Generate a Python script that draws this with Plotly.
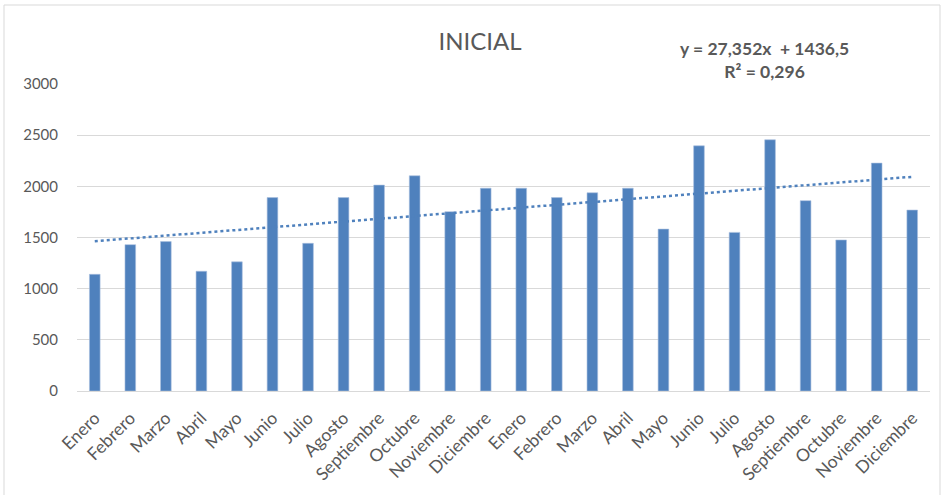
import plotly.graph_objects as go

months = ["Enero", "Febrero", "Marzo", "Abril", "Mayo", "Junio", "Julio", "Agosto",
          "Septiembre", "Octubre", "Noviembre", "Diciembre"]
categories = months + months
values = [1140, 1430, 1460, 1170, 1262, 1890, 1443, 1890, 2012, 2103, 1752, 1982,
          1982, 1890, 1937, 1982, 1582, 2396, 1550, 2455, 1860, 1476, 2227, 1768]
trend_slope = 27.352
trend_intercept = 1436.5
title_text = "INICIAL"
equation_text = "y = 27,352x  + 1436,5<br>R² = 0,296"
y_ticks = [0, 500, 1000, 1500, 2000, 2500, 3000]

positions = list(range(len(values)))
trend = [trend_slope * (i + 1) + trend_intercept for i in positions]

FONT = "Lato, 'Open Sans', sans-serif"
GRAY = "#595959"
BLUE = "#4f81bd"

fig = go.Figure()
fig.add_trace(go.Bar(x=positions, y=values, marker=dict(color=BLUE, line=dict(color="#a9c0df", width=0.6)),
                     width=0.3, showlegend=False))
fig.add_trace(go.Scatter(x=positions, y=trend, mode="lines",
                         line=dict(color=BLUE, width=2.5, dash="dot"), showlegend=False))

fig.update_layout(
    width=942, height=495,
    margin=dict(l=77, r=12, t=84, b=104),
    paper_bgcolor="white", plot_bgcolor="white",
    font=dict(family=FONT, color=GRAY, size=13),
    title=dict(text=title_text, x=480 / 942, xref="container", xanchor="center",
               y=1 - 42 / 495, yref="container", yanchor="middle",
               font=dict(size=24, color=GRAY, family=FONT)),
    xaxis=dict(tickmode="array", tickvals=positions, ticktext=categories, tickangle=-45,
               range=[-0.5, len(values) - 0.5], showgrid=False, showline=False,
               ticks="outside", ticklen=9, tickcolor="rgba(0,0,0,0)",
               tickfont=dict(size=17.5, color=GRAY)),
    yaxis=dict(range=[0, 3000], tickvals=y_ticks, showgrid=True, gridcolor="#d9d9d9",
               gridwidth=1, zeroline=True, zerolinecolor="#d9d9d9", zerolinewidth=1,
               showline=False, ticks="", ticklabelstandoff=18,
               tickfont=dict(size=15, color=GRAY)),
    annotations=[dict(text="<b>" + equation_text + "</b>", xref="paper", yref="paper",
                      x=(764 - 77) / 853, y=1 + (84 - 60) / 307, xanchor="center", yanchor="middle",
                      showarrow=False, align="center",
                      font=dict(size=17.5, color=GRAY, family=FONT))],
    shapes=[dict(type="rect", xref="paper", yref="paper",
                 x0=(4 - 77) / 853, x1=(940 - 77) / 853,
                 y0=-(500 - 391) / 307, y1=1 + (84 - 5) / 307,
                 line=dict(color="#d9d9d9", width=1), layer="below")],
)

fig.write_html("out.html")
